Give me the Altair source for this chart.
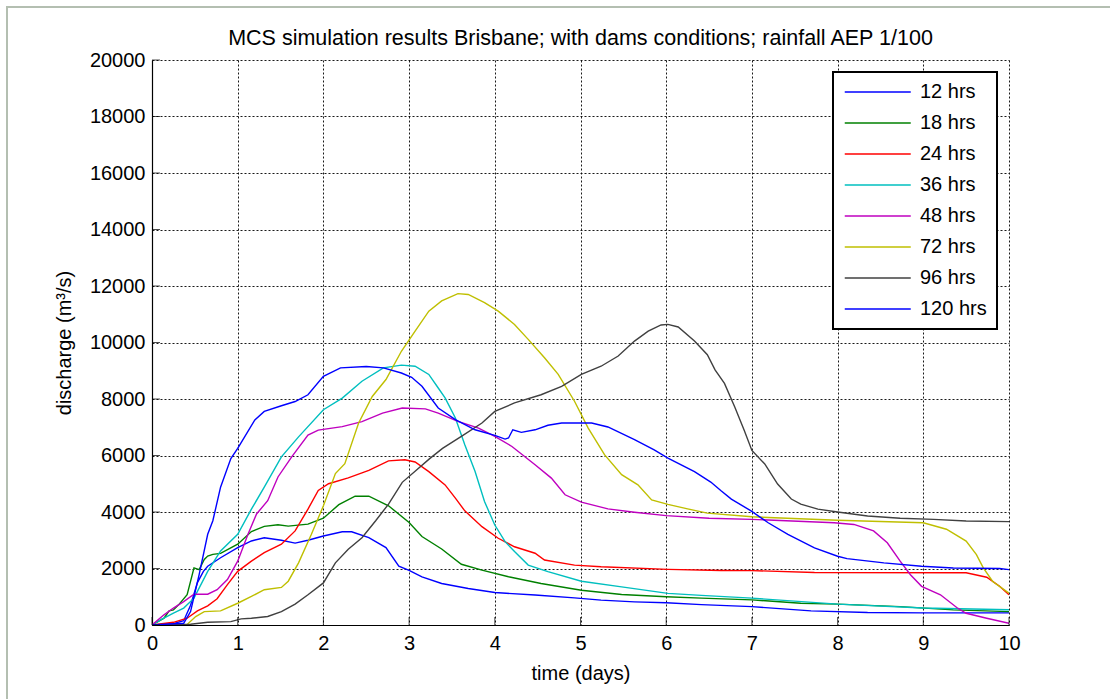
import altair as alt
import pandas as pd

series_names = ["12 hrs", "18 hrs", "24 hrs", "36 hrs", "48 hrs", "72 hrs", "96 hrs", "120 hrs"]
series_colors = ["#0000FF", "#008000", "#FF0000", "#00BFBF", "#BF00BF", "#BFBF00", "#404040", "#0000FF"]

t12 = [0, 0.25, 0.37, 0.45, 0.53, 0.6, 0.65, 0.8, 1.0, 1.16, 1.31, 1.51, 1.67, 1.82, 2.0, 2.22, 2.33, 2.53,
       2.73, 2.88, 3.0, 3.15, 3.38, 3.69, 4.0, 4.47, 4.93, 5.24, 5.63, 6.0, 6.41, 7.0, 7.69, 8.35, 9.0, 10.0]
q12 = [0, 50, 150, 700, 1500, 1900, 2080, 2380, 2740, 2975, 3090, 3000, 2900, 3000, 3150, 3300, 3300, 3090,
       2740, 2080, 1930, 1700, 1470, 1290, 1150, 1060, 960, 880, 820, 785, 720, 650, 500, 440, 430, 430]

t18 = [0, 0.14, 0.2, 0.25, 0.31, 0.41, 0.49, 0.55, 0.61, 0.65, 0.71, 0.8, 1.0, 1.16, 1.31, 1.47, 1.59, 1.82,
       2.0, 2.18, 2.37, 2.53, 2.76, 3.0, 3.15, 3.38, 3.61, 3.85, 4.16, 4.54, 5.01, 5.48, 6.0, 6.41, 7.0, 7.57,
       8.0, 8.73, 9.35, 10.0]
q18 = [0, 240, 500, 535, 714, 1070, 2020, 1960, 2320, 2440, 2500, 2535, 2860, 3310, 3490, 3550, 3500, 3570,
       3780, 4260, 4560, 4560, 4220, 3630, 3130, 2690, 2150, 1940, 1710, 1470, 1230, 1080, 1000, 950, 890, 770,
       740, 650, 535, 475]

t24 = [0, 0.25, 0.41, 0.53, 0.65, 0.76, 0.88, 1.0, 1.16, 1.31, 1.51, 1.67, 1.82, 1.94, 2.06, 2.29, 2.53, 2.76,
       2.95, 3.07, 3.23, 3.42, 3.54, 3.65, 3.85, 4.04, 4.23, 4.47, 4.58, 4.93, 5.24, 6.02, 6.64, 7.0, 7.73, 9.5,
       9.74, 9.89, 10.0]
q24 = [0, 95, 240, 500, 680, 930, 1430, 1900, 2260, 2560, 2860, 3330, 4100, 4760, 5000, 5210, 5470, 5810,
       5850, 5770, 5430, 4960, 4490, 4040, 3480, 3070, 2770, 2540, 2300, 2120, 2060, 1970, 1930, 1925, 1860, 1850,
       1690, 1370, 1070]

t36 = [0, 0.1, 0.25, 0.37, 0.49, 0.65, 0.8, 1.0, 1.16, 1.31, 1.51, 1.71, 2.0, 2.22, 2.45, 2.7, 2.91, 3.07,
       3.23, 3.34, 3.42, 3.54, 3.65, 3.77, 3.88, 4.0, 4.12, 4.23, 4.39, 4.62, 5.01, 5.48, 6.02, 6.41, 7.0, 8.0,
       9.0, 10.0]
q36 = [0, 180, 420, 600, 950, 1900, 2620, 3210, 4100, 4880, 5950, 6660, 7620, 8030, 8630, 9100, 9200, 9160,
       8870, 8390, 8040, 7330, 6380, 5430, 4370, 3540, 2950, 2600, 2120, 1890, 1550, 1350, 1120, 1050, 950, 740,
       600, 540]

t48 = [0, 0.14, 0.25, 0.37, 0.49, 0.65, 0.76, 0.88, 1.0, 1.12, 1.22, 1.35, 1.47, 1.63, 1.82, 1.94, 2.22, 2.45,
       2.69, 2.92, 3.19, 3.34, 3.57, 3.81, 4.0, 4.2, 4.47, 4.66, 4.82, 5.01, 5.32, 5.63, 6.0, 6.5, 7.0, 7.96,
       8.19, 8.42, 8.58, 8.73, 8.85, 8.98, 9.2, 9.39, 9.5, 9.74, 10.0]
q48 = [0, 360, 600, 830, 1090, 1090, 1250, 1610, 2260, 3210, 3930, 4400, 5240, 5950, 6720, 6900, 7020, 7200,
       7500, 7680, 7650, 7500, 7210, 6970, 6680, 6320, 5670, 5200, 4610, 4350, 4110, 3990, 3870, 3780, 3740, 3620,
       3560, 3330, 2910, 2260, 1780, 1370, 1070, 620, 415, 240, 60]

t72 = [0, 0.41, 0.51, 0.61, 0.8, 1.0, 1.16, 1.31, 1.51, 1.59, 1.71, 1.86, 2.0, 2.14, 2.25, 2.41, 2.57, 2.73,
       2.91, 3.07, 3.23, 3.38, 3.57, 3.69, 3.88, 4.04, 4.23, 4.39, 4.58, 4.74, 4.93, 5.09, 5.28, 5.48, 5.67, 5.83,
       6.02, 6.25, 6.48, 7.0, 8.0, 9.0, 9.27, 9.5, 9.62, 9.7, 9.81, 10.0]
q72 = [0, 20, 300, 475, 500, 770, 1010, 1250, 1330, 1550, 2200, 3210, 4220, 5360, 5710, 7140, 8090, 8690,
       9690, 10400, 11110, 11470, 11730, 11700, 11410, 11110, 10640, 10110, 9460, 8870, 7920, 6970, 6030, 5320,
       4960, 4430, 4270, 4110, 3960, 3830, 3710, 3620, 3390, 2970, 2490, 2020, 1540, 1130]

t96 = [0, 0.45, 0.65, 0.92, 1.04, 1.16, 1.35, 1.51, 1.67, 1.82, 2.0, 2.14, 2.29, 2.45, 2.61, 2.76, 2.92, 3.08,
       3.24, 3.39, 3.61, 3.85, 4.0, 4.23, 4.54, 4.78, 5.01, 5.24, 5.44, 5.63, 5.79, 5.94, 6.02, 6.14, 6.33, 6.48,
       6.57, 6.68, 6.8, 6.91, 7.0, 7.15, 7.3, 7.46, 7.57, 7.77, 8.0, 8.35, 8.73, 9.12, 9.5, 10.0]
q96 = [0, 25, 95, 120, 215, 240, 300, 475, 740, 1070, 1490, 2200, 2680, 3090, 3690, 4280, 5050, 5470,
       5890, 6250, 6680, 7150, 7560, 7860, 8150, 8450, 8870, 9160, 9520, 10050, 10400, 10620, 10640, 10550, 10050,
       9570, 9030, 8550, 7720, 6890, 6180, 5700, 4990, 4460, 4280, 4100, 4000, 3860, 3780, 3740, 3680, 3660]

t120 = [0, 0.37, 0.45, 0.55, 0.65, 0.71, 0.8, 0.92, 1.0, 1.2, 1.31, 1.51, 1.67, 1.82, 2.0, 2.2, 2.5, 2.7,
        2.91, 3.03, 3.15, 3.34, 3.54, 3.77, 4.0, 4.12, 4.16, 4.21, 4.31, 4.47, 4.62, 4.78, 5.13, 5.32, 5.63, 5.86,
        6.02, 6.33, 6.52, 6.64, 6.76, 6.99, 7.19, 7.42, 7.73, 8.0, 8.11, 8.54, 8.98, 9.35, 9.89, 10.0]
q120 = [0, 60, 475, 1780, 3210, 3690, 4880, 5890, 6250, 7260, 7560, 7760, 7910, 8150, 8800, 9100, 9150, 9100,
        8920, 8770, 8450, 7680, 7270, 6910, 6710, 6580, 6620, 6910, 6820, 6910, 7070, 7150, 7150, 7010, 6560, 6200,
        5910, 5430, 5060, 4750, 4455, 4040, 3620, 3210, 2730, 2435, 2350, 2200, 2080, 2020, 2000, 1960]

x_ticks = [0, 1, 2, 3, 4, 5, 6, 7, 8, 9, 10]
y_ticks = [0, 2000, 4000, 6000, 8000, 10000, 12000, 14000, 16000, 18000, 20000]

title_text = "MCS simulation results Brisbane; with dams conditions; rainfall AEP 1/100"
x_title = "time (days)"
y_title = "discharge (m³/s)"

all_t = [t12, t18, t24, t36, t48, t72, t96, t120]
all_q = [q12, q18, q24, q36, q48, q72, q96, q120]
rows = []
for name, ts, qs in zip(series_names, all_t, all_q):
    for t, q in zip(ts, qs):
        rows.append({"series": name, "t": t, "q": q})
df = pd.DataFrame(rows)

W, H = 857, 565
FONT = "Liberation Sans"

xscale = alt.Scale(domain=[0, 10], nice=False, zero=False)
yscale = alt.Scale(domain=[0, 20000], nice=False)

lines = alt.Chart(df).mark_line(strokeWidth=1.4, clip=True).encode(
    x=alt.X("t:Q", scale=xscale,
            axis=alt.Axis(values=x_ticks, title=x_title, grid=True, ticks=False, labelPadding=8,
                          labelFlush=False, titlePadding=10, format="d")),
    y=alt.Y("q:Q", scale=yscale,
            axis=alt.Axis(values=y_ticks, title=y_title, grid=True, ticks=False, labelPadding=7,
                          titlePadding=15, format="d")),
    color=alt.Color("series:N",
                    scale=alt.Scale(domain=series_names, range=series_colors),
                    legend=alt.Legend(title=None, orient="none", legendX=681, legendY=12,
                                      symbolType="M-1.5,0H10.5", symbolSize=121, symbolStrokeWidth=1.5,
                                      labelOffset=57, padding=10, rowPadding=11,
                                      strokeColor="black", fillColor="white",
                                      labelFontSize=20, labelFont=FONT, labelColor="black")),
    detail="series:N",
    order="t:Q",
)

ytick_df = pd.DataFrame({"v": y_ticks})
xtick_df = pd.DataFrame({"v": x_ticks})
yticks_layer = alt.Chart(ytick_df).mark_tick(color="black", size=8, thickness=1, orient="horizontal").encode(
    y=alt.Y("v:Q", scale=yscale), x=alt.value(4))
xticks_layer = alt.Chart(xtick_df).mark_tick(color="black", size=8, thickness=1, orient="vertical").encode(
    x=alt.X("v:Q", scale=xscale), y=alt.value(H - 4))

one = alt.Data(values=[{"a": 1}])
frame_left = alt.Chart(one).mark_rule(color="#b4bfb1", strokeWidth=2).encode(
    x=alt.value(-145), y=alt.value(-54), y2=alt.value(700))
frame_top = alt.Chart(one).mark_rule(color="#b4bfb1", strokeWidth=2).encode(
    x=alt.value(-146), x2=alt.value(1000), y=alt.value(-53))

chart = alt.layer(frame_left, frame_top, lines, yticks_layer, xticks_layer).properties(
    width=W, height=H,
    title=alt.TitleParams(title_text, font=FONT, fontSize=21.5, fontWeight="normal", color="black",
                          anchor="middle", frame="group", offset=-44),
    autosize=alt.AutoSizeParams(type="none"),
    padding={"left": 152, "top": 60, "right": 101, "bottom": 74},
    background="white",
).configure_view(stroke=None).configure_axis(
    labelFont=FONT, labelFontSize=20, labelColor="black",
    titleFont=FONT, titleFontSize=20, titleFontWeight="normal", titleColor="black",
    domainColor="black", domainWidth=1.2,
    gridColor="black", gridDash=[2, 2], gridWidth=1, gridOpacity=0.9,
).configure_legend(strokeWidth=2)

chart.save("out.html", embed_options={"renderer": "svg", "actions": False})
